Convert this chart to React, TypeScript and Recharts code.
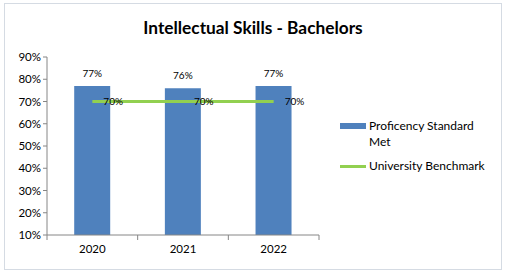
import { ComposedChart, Bar, Line, XAxis, YAxis, LabelList } from 'recharts';

const years = ['2020', '2021', '2022'];
const proficiency = [77, 76, 77];
const benchmark = [70, 70, 70];
const yTicks = [10, 20, 30, 40, 50, 60, 70, 80, 90];

const data = years.map((year, i) => ({
	year,
	proficiency: proficiency[i],
	benchmark: benchmark[i],
}));

const FONT = 'Lato, "Liberation Sans", sans-serif';

const pct = (v: any) => `${v}%`;

// Excel style category axis: tick marks sit on the category boundaries
const CategoryTick = (props: any) => {
	const { x, y, payload, index, visibleTicksCount } = props;
	const off = payload && payload.offset ? payload.offset : 45;
	return (
		<g>
			<line x1={x - off} x2={x - off} y1={y - 8} y2={y - 3} stroke='#868686' />
			{index === visibleTicksCount - 1 && <line x1={x + off} x2={x + off} y1={y - 8} y2={y - 3} stroke='#868686' />}
			<text x={x} y={y + 10} textAnchor='middle' fontSize={11.5} fontFamily={FONT} fill='#000'>
				{payload.value}
			</text>
		</g>
	);
};

const LegendBox = () => (
	<div
		style={{
			position: 'absolute',
			left: 340,
			top: 118,
			width: 160,
			fontFamily: FONT,
			fontSize: 12,
			color: '#000',
			lineHeight: '16px',
		}}>
		<div style={{ display: 'flex', alignItems: 'flex-start' }}>
			<div style={{ width: 26, height: 6, background: '#4F81BD', marginTop: 5, marginRight: 3, flexShrink: 0 }} />
			<div style={{ width: 120 }}>Proficency Standard Met</div>
		</div>
		<div style={{ display: 'flex', alignItems: 'center', marginTop: 8 }}>
			<div style={{ width: 26, height: 3, background: '#92D050', marginRight: 3 }} />
			<div>University Benchmark</div>
		</div>
	</div>
);

export default function App() {
	return (
		<div style={{ position: 'absolute', left: 0, top: 0, width: 511, height: 280, background: '#fff' }}>
			<div
				style={{
					position: 'absolute',
					left: 4,
					top: 3,
					width: 496,
					height: 265,
					border: '1px solid #d5dbe3',
				}}
			/>
			<div
				style={{
					position: 'absolute',
					left: 0,
					top: 16,
					width: 506,
					textAlign: 'center',
					fontFamily: FONT,
					fontWeight: 'bold',
					fontSize: 17.3,
					lineHeight: '24px',
				}}>
				Intellectual Skills - Bachelors
			</div>
			<ComposedChart
				width={511}
				height={280}
				data={data}
				barCategoryGap='30%'
				margin={{ top: 57, right: 192, left: 7, bottom: 15 }}
				style={{ position: 'absolute', left: 0, top: 0 }}>
				<XAxis dataKey='year' stroke='#868686' tickLine={false} height={30} tick={<CategoryTick />} />
				<YAxis
					domain={[10, 90]}
					ticks={yTicks}
					tickFormatter={pct}
					width={40}
					stroke='#868686'
					tickSize={4}
					tick={{ fill: '#000', fontSize: 11.5, fontFamily: FONT }}
				/>
				<Bar dataKey='proficiency' fill='#4F81BD' isAnimationActive={false}>
					<LabelList dataKey='proficiency' position='top' offset={9} formatter={pct} fill='#000' fontSize={10} fontFamily={FONT} />
				</Bar>
				<Line dataKey='benchmark' stroke='#92D050' strokeWidth={3} dot={false} isAnimationActive={false}>
					<LabelList dataKey='benchmark' position='right' offset={11} formatter={pct} fill='#000' fontSize={10} fontFamily={FONT} />
				</Line>
			</ComposedChart>
			<LegendBox />
		</div>
	);
}
